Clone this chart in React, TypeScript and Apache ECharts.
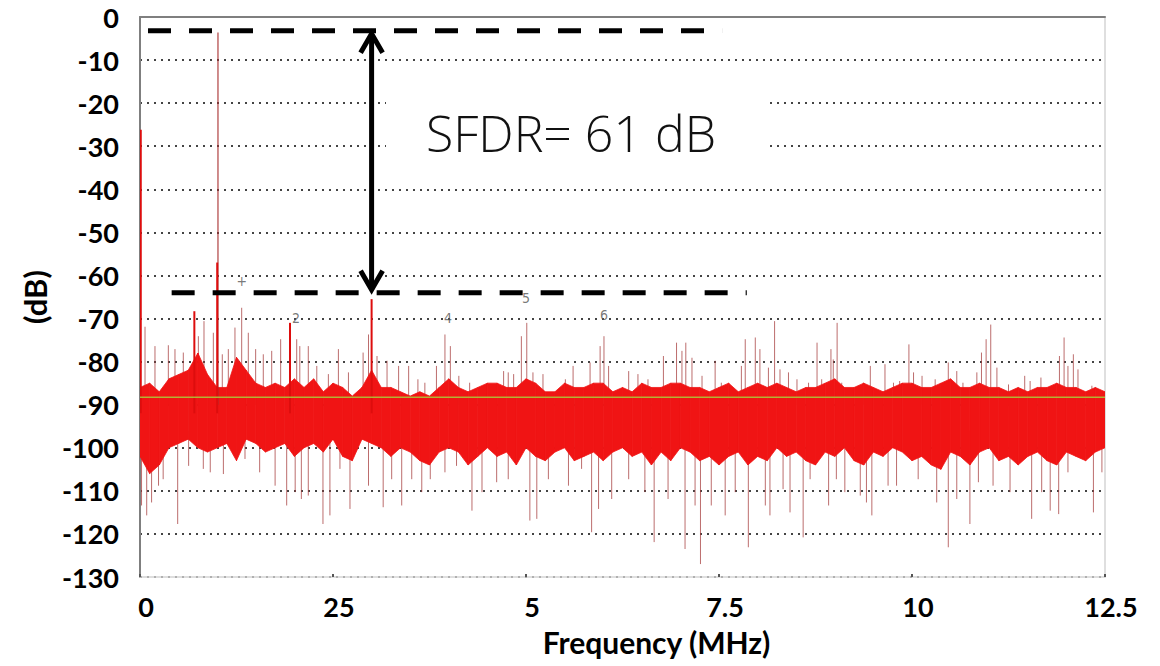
import React, { useEffect, useRef } from "react";
import * as echarts from "echarts";

// ---------- data ----------
const xTickLabels = ["0", "25", "5", "7.5", "10", "12.5"];

// upper / lower edge of the dense noise band, one value every 0.125 MHz (0 .. 12.5)
const noiseTop = [
  -86, -85, -87, -84, -83, -82, -78, -83, -86, -86,
  -79, -82, -85, -86, -85, -86, -84, -86, -84, -87,
  -85, -86, -88, -86, -82, -86, -86, -87, -88, -87,
  -88, -86, -84, -86, -87, -86, -85, -85, -86, -86,
  -84, -85, -87, -87, -85, -86, -86, -85, -85, -87,
  -86, -87, -85, -86, -86, -85, -85, -86, -86, -87,
  -86, -85, -87, -86, -85, -86, -85, -86, -87, -86,
  -86, -85, -84, -86, -86, -85, -86, -87, -86, -85,
  -85, -86, -86, -85, -84, -86, -86, -85, -86, -86,
  -87, -86, -87, -86, -86, -85, -86, -86, -87, -86,
  -87,
];
const noiseBottom = [
  -102, -106, -104, -100, -99, -98, -100, -101, -100, -99,
  -103, -98, -99, -101, -100, -99, -102, -100, -99, -101,
  -98, -102, -103, -98, -99, -100, -102, -100, -101, -103,
  -104, -101, -100, -101, -104, -102, -100, -102, -101, -104,
  -100, -102, -103, -101, -100, -103, -102, -101, -103, -101,
  -100, -102, -101, -104, -101, -103, -100, -101, -103, -102,
  -104, -102, -101, -104, -102, -103, -100, -102, -101, -103,
  -104, -101, -102, -100, -103, -104, -101, -102, -100, -101,
  -103, -102, -104, -105, -101, -102, -104, -101, -100, -103,
  -102, -104, -102, -101, -103, -104, -101, -102, -103, -101,
  -100,
];
const noiseBinMHz = 0.125;

// spurs rising above the noise band
const upSpikeFreqs = [
  0.065, 0.194, 0.367, 0.453, 0.561, 0.756, 0.829, 0.95, 1.066, 1.144,
  1.23, 1.317, 1.403, 1.498, 1.597, 1.706, 1.822, 2.03, 2.07, 2.18,
  2.29, 2.44, 2.57, 2.7, 2.89, 2.96, 3.07, 3.2, 3.35, 3.48,
  3.6, 3.69, 3.84, 3.95, 4.02, 4.13, 4.27, 4.71, 4.77, 4.84,
  4.94, 5.01, 5.09, 5.22, 5.51, 5.61, 5.83, 5.96, 6.01, 6.07,
  6.33, 6.45, 6.58, 6.78, 6.95, 7.02, 7.07, 7.15, 7.28, 7.45,
  7.53, 7.79, 7.84, 7.97, 8.03, 8.14, 8.22, 8.29, 8.4, 8.51,
  8.66, 8.77, 8.83, 8.95, 8.98, 9.03, 9.09, 9.37, 9.46, 9.65,
  9.76, 9.84, 9.96, 10.02, 10.13, 10.3, 10.47, 10.58, 10.66, 10.84,
  10.9, 10.96, 11.02, 11.1, 11.25, 11.46, 11.53, 11.67, 11.91, 11.97,
  12.02, 12.09, 12.15, 12.33, 12.41,
];
const upSpikeLevels = [
  -71.9, -76.4, -76.2, -77.1, -77.9, -74.1, -70.6, -73.3, -78.3, -77.1,
  -72.1, -67.5, -73.3, -77.1, -78.3, -77.5, -74.8, -74.8, -76.4, -76.4,
  -81, -82.9, -77.1, -82.5, -77.9, -73.7, -78.7, -79.8, -81, -81,
  -84.1, -84.9, -81, -73.7, -76.4, -83.3, -84.9, -82.2, -82.5, -82.9,
  -74.1, -71, -82.5, -82.9, -84.1, -81, -80.2, -76.4, -74.1, -81,
  -82.2, -82.9, -84.1, -78.7, -75.6, -77.5, -75.6, -79.1, -83.3, -79.8,
  -84.9, -81, -74.8, -74.4, -77.1, -81.4, -70.6, -81.8, -82.5, -84.1,
  -84.9, -75.6, -84.1, -77.1, -79.5, -71, -84.9, -84.9, -81, -80.6,
  -84.9, -84.5, -76, -82.5, -83.3, -84.1, -80.2, -82.2, -84.9, -82.5,
  -77.9, -74.8, -71.4, -81.4, -85.3, -83.3, -84.5, -83.7, -78.7, -74.4,
  -81, -78.3, -81.8, -85.6, -87.2,
];

// dips falling below the noise band
const dipFreqs = [
  0.02, 0.087, 0.15, 0.24, 0.3, 0.488, 0.63, 0.82, 0.91, 1.08,
  1.23, 1.36, 1.55, 1.75, 1.9, 2.01, 2.09, 2.18, 2.37, 2.46,
  2.59, 2.72, 2.96, 3.15, 3.26, 3.39, 3.52, 3.65, 3.76, 3.95,
  4.1, 4.3, 4.43, 4.62, 4.77, 5.05, 5.14, 5.29, 5.55, 5.72,
  5.85, 5.94, 6.11, 6.33, 6.54, 6.66, 6.84, 7.06, 7.19, 7.26,
  7.4, 7.58, 7.71, 7.88, 8.1, 8.16, 8.33, 8.42, 8.59, 8.68,
  8.92, 9.02, 9.13, 9.33, 9.41, 9.48, 9.69, 9.8, 10.08, 10.32,
  10.47, 10.58, 10.75, 10.86, 11.05, 11.27, 11.55, 11.68, 11.79, 11.9,
  12.02, 12.35, 12.46,
];
const dipLevels = [
  -113.4, -115.7, -112.7, -108.8, -107.3, -117.7, -104.2, -104.9, -105.7, -106.1,
  -101.9, -102.6, -105.7, -108.8, -113.4, -110.3, -111.9, -111.1, -117.7, -115.7,
  -104.9, -114.2, -108.8, -113.8, -107.3, -113.4, -107.3, -110.3, -107.3, -105.7,
  -104.2, -114.6, -110.3, -108, -107.3, -116.9, -116.5, -107.3, -108.8, -104.9,
  -119.6, -114.2, -111.9, -107.3, -110.3, -121.9, -111.9, -123.5, -113.4, -127,
  -113.4, -115.7, -110.3, -123.1, -113.4, -115.7, -109.6, -115, -120.8, -107.3,
  -113.4, -107.3, -110.3, -111.1, -112.7, -115.7, -108.8, -108.8, -107.3, -112.7,
  -123.1, -111.9, -117.7, -108, -108.8, -110.3, -116.5, -110.3, -114.6, -115.4,
  -105.7, -115, -105.7,
];

// strong tones (DC, spurs near the carrier, 3rd harmonic)
const toneFreqs = [0.01, 0.704, 1.0, 1.943, 3.0];
const toneLevels = [-26.2, -68.3, -57, -71, -65.5];
// carrier
const carrierFreq = 1.01;
const carrierLevel = -3.6;

const noiseFloorLevel = -88.3;

// SFDR annotation
const sfdrFreq = 3.0;
const sfdrTop = -3.2;
const sfdrBottom = -64;
const topDash = [0.104, 7.54];
const bottomDash = [0.41, 7.86];

// harmonic index labels
const harmonicTexts = ["+", "2", "4", "5", "6"];
const harmonicFreqs = [1.32, 2.02, 3.99, 5.0, 6.01];
const harmonicLevels = [-61.3, -69.9, -69.9, -65.2, -69.2];

const FONT = 'Lato, "Open Sans", sans-serif';

export default function App() {
  const ref = useRef<HTMLDivElement>(null);

  useEffect(() => {
    if (!ref.current) return;
    const chart = echarts.init(ref.current, undefined, { renderer: "svg" });

    // one quadrilateral per noise bin: [f0, top0, bottom0, f1, top1, bottom1]
    const bandData = noiseTop.slice(0, -1).map((t, i) => [
      i * noiseBinMHz, t, noiseBottom[i],
      (i + 1) * noiseBinMHz, noiseTop[i + 1], noiseBottom[i + 1],
    ]);
    const upData = upSpikeFreqs.map((f, i) => [f, -90, upSpikeLevels[i]]);
    const dipData = dipFreqs.map((f, i) => [f, -96, dipLevels[i]]);
    const toneData = toneFreqs.map((f, i) => [f, -92, toneLevels[i]]);

    const spikeRender = (color: string, width: number, opacity: number) =>
      (params: any, api: any) => {
        const a = api.coord([api.value(0), api.value(1)]);
        const b = api.coord([api.value(0), api.value(2)]);
        return {
          type: "line",
          shape: { x1: a[0], y1: a[1], x2: b[0], y2: b[1] },
          style: { stroke: color, lineWidth: width, opacity },
        };
      };

    const option: any = {
      animation: false,
      backgroundColor: "#ffffff",
      grid: { left: 140, right: 55, top: 17, bottom: 89, containLabel: false, outerBoundsMode: "none" },
      xAxis: [
        {
          type: "value",
          min: 0,
          max: 12.5,
          interval: 2.5,
          position: "bottom",
          axisLine: { show: true, onZero: false, lineStyle: { color: "#d4d4d4", width: 1.5 } },
          axisTick: { show: true, inside: true, length: 3, lineStyle: { color: "#555", width: 2 } },
          axisLabel: {
            formatter: (v: number) => xTickLabels[Math.round(v / 2.5)],
            fontFamily: FONT,
            fontWeight: "bold",
            fontSize: 27,
            color: "#000",
            margin: 16,
            padding: [0, 0, 0, 12],
          },
          splitLine: { show: false },
          name: "Frequency (MHz)",
          nameLocation: "middle",
          nameGap: 50,
          nameMoveOverlap: false,
          nameTextStyle: {
            fontFamily: FONT,
            fontWeight: "bold",
            fontSize: 30,
            color: "#000",
            padding: [0, 0, 0, 68],
          },
        },
        {
          type: "value",
          min: 0,
          max: 12.5,
          position: "top",
          axisLine: { show: true, onZero: false, lineStyle: { color: "#7f7f7f", width: 2 } },
          axisTick: { show: false },
          axisLabel: { show: false },
          splitLine: { show: false },
        },
      ],
      yAxis: [
        {
          type: "value",
          min: -130,
          max: 0,
          interval: 10,
          axisLine: { show: true, onZero: false, lineStyle: { color: "#7f7f7f", width: 2 } },
          axisTick: { show: false },
          axisLabel: {
            fontFamily: FONT,
            fontWeight: "bold",
            fontSize: 27,
            color: "#000",
            margin: 21,
          },
          splitLine: { show: true, lineStyle: { color: "#444", width: 2, type: [2, 5] } },
          name: "(dB)",
          nameLocation: "middle",
          nameRotate: 90,
          nameGap: 90,
          nameMoveOverlap: false,
          nameTextStyle: { fontFamily: FONT, fontWeight: "bold", fontSize: 31, color: "#000" },
        },
        {
          type: "value",
          min: -130,
          max: 0,
          position: "right",
          axisLine: { show: true, onZero: false, lineStyle: { color: "#d4d4d4", width: 1.5 } },
          axisTick: { show: false },
          axisLabel: { show: false },
          splitLine: { show: false },
        },
      ],
      series: [
        {
          name: "spurs",
          type: "custom",
          renderItem: spikeRender("#a63c3c", 1, 0.75),
          encode: { x: 0, y: [1, 2] },
          data: upData,
          clip: true,
          silent: true,
          z: 2,
        },
        {
          name: "dips",
          type: "custom",
          renderItem: spikeRender("#a63c3c", 1, 0.75),
          encode: { x: 0, y: [1, 2] },
          data: dipData,
          clip: true,
          silent: true,
          z: 2,
        },
        {
          name: "noise",
          type: "custom",
          encode: { x: [0, 3], y: [1, 2, 4, 5] },
          data: bandData,
          clip: true,
          silent: true,
          z: 3,
          renderItem: (params: any, api: any) => {
            const a = api.coord([api.value(0), api.value(1)]);
            const b = api.coord([api.value(3), api.value(4)]);
            const c = api.coord([api.value(3), api.value(5)]);
            const d = api.coord([api.value(0), api.value(2)]);
            return {
              type: "polygon",
              shape: { points: [a, b, c, d] },
              style: { fill: "#f01414", stroke: "#f01414", lineWidth: 0.8 },
            };
          },
        },
        {
          name: "carrier",
          type: "custom",
          renderItem: spikeRender("#a83030", 1.3, 0.85),
          encode: { x: 0, y: [1, 2] },
          data: [[carrierFreq, -90, carrierLevel]],
          clip: true,
          silent: true,
          z: 4,
        },
        {
          name: "tones",
          type: "custom",
          renderItem: spikeRender("#dd0d0d", 2, 1),
          encode: { x: 0, y: [1, 2] },
          data: toneData,
          clip: true,
          silent: true,
          z: 4,
        },
        {
          name: "floor",
          type: "line",
          data: [[0, noiseFloorLevel], [12.5, noiseFloorLevel]],
          symbol: "none",
          lineStyle: { color: "#a9cc3a", width: 1.5, opacity: 0.85 },
          silent: true,
          z: 5,
        },
        {
          name: "topDash",
          type: "line",
          data: [[topDash[0], sfdrTop], [topDash[1], sfdrTop]],
          symbol: "none",
          lineStyle: { color: "#000", width: 5, type: [23, 18] },
          silent: true,
          z: 6,
        },
        {
          name: "bottomDash",
          type: "line",
          data: [[bottomDash[0], sfdrBottom], [bottomDash[1], sfdrBottom]],
          symbol: "none",
          lineStyle: { color: "#000", width: 5, type: [23, 18] },
          silent: true,
          z: 6,
        },
        {
          name: "sfdrArrow",
          type: "custom",
          encode: { x: 0, y: [1, 2] },
          data: [[sfdrFreq, sfdrTop, sfdrBottom]],
          silent: true,
          z: 7,
          renderItem: (params: any, api: any) => {
            const p1 = api.coord([api.value(0), api.value(1)]);
            const p2 = api.coord([api.value(0), api.value(2)]);
            const st = { stroke: "#000", lineWidth: 5, fill: null, lineJoin: "miter" };
            return {
              type: "group",
              children: [
                { type: "line", shape: { x1: p1[0], y1: p1[1] + 3, x2: p2[0], y2: p2[1] - 3 }, style: st },
                {
                  type: "polyline",
                  shape: { points: [[p1[0] - 11, p1[1] + 22], [p1[0], p1[1] + 3], [p1[0] + 11, p1[1] + 22]] },
                  style: st,
                },
                {
                  type: "polyline",
                  shape: { points: [[p2[0] - 11, p2[1] - 22], [p2[0], p2[1] - 3], [p2[0] + 11, p2[1] - 22]] },
                  style: st,
                },
              ],
            };
          },
        },
        {
          name: "harmonics",
          type: "scatter",
          data: harmonicFreqs.map((f, i) => [f, harmonicLevels[i], harmonicTexts[i]]),
          symbolSize: 0,
          silent: true,
          z: 7,
          label: {
            show: true,
            position: "inside",
            formatter: (p: any) => p.value[2],
            fontFamily: '"DejaVu Sans Condensed", "DejaVu Sans", sans-serif',
            fontSize: 14,
            color: "#555",
          },
        },
      ],
      graphic: [
        {
          type: "rect",
          shape: { x: 386, y: 74, width: 382, height: 104 },
          style: { fill: "#ffffff" },
          z: 100,
          silent: true,
        },
        {
          type: "text",
          x: 571,
          y: 133,
          z: 101,
          silent: true,
          style: {
            text: "SFDR= 61 dB",
            fontFamily: '"Open Sans", "Noto Sans", sans-serif',
            fontWeight: 300,
            fontSize: 50,
            fill: "#111",
            align: "center",
            verticalAlign: "middle",
          },
        },
      ],
    };

    chart.setOption(option);
    return () => chart.dispose();
  }, []);

  return (
    <div
      ref={ref}
      style={{ position: "fixed", left: 0, top: 0, width: 1160, height: 666, background: "#fff" }}
    />
  );
}
